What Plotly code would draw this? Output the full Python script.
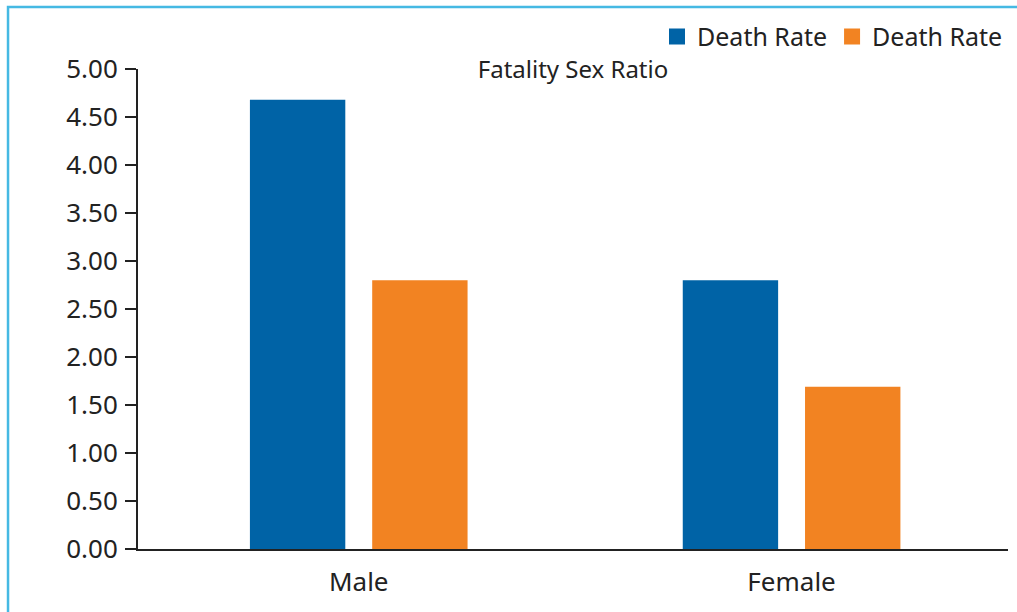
import plotly.graph_objects as go

categories = ["Male", "Female"]
series_names = ["Death Rate", "Death Rate"]
series_a = [4.68, 2.80]
series_b = [2.80, 1.69]
colors = ["#0063a6", "#f28322"]
y_ticks = [0, 0.5, 1, 1.5, 2, 2.5, 3, 3.5, 4, 4.5, 5]
y_tick_labels = [f"{v:.2f}" for v in y_ticks]
title_text = "Fatality Sex Ratio"

FONT = "Noto Sans"
TXT = "#222222"

fig = go.Figure()
for name, vals, col in zip(series_names, [series_a, series_b], colors):
    fig.add_trace(go.Bar(x=categories, y=vals, name=name, marker=dict(color=col, line=dict(width=0)),
                         showlegend=False))
    # legend entry with larger square swatch
    fig.add_trace(go.Scatter(x=[None], y=[None], mode="markers", name=name,
                             marker=dict(symbol="square", size=20, color=col)))

fig.update_layout(
    width=1017, height=612,
    margin=dict(l=138, r=9, t=69, b=63),
    paper_bgcolor="white", plot_bgcolor="white",
    font=dict(family=FONT, size=26, color=TXT),
    barmode="group", bargap=0.435, bargroupgap=0.22,
    title=dict(text=title_text, x=0.5, xref="paper", y=1 - 70 / 612, yanchor="middle",
               font=dict(family=FONT, size=24, color=TXT)),
    legend=dict(orientation="h", x=1.0, xanchor="right", y=1.067, yanchor="middle",
                font=dict(family=FONT, size=25, color=TXT), bgcolor="rgba(0,0,0,0)",
                itemclick=False, tracegroupgap=0, itemwidth=30),
    xaxis=dict(range=[-0.51, 1.5], showline=True, linecolor="#222222", linewidth=2,
               ticks="", showgrid=False, zeroline=False, tickfont=dict(size=26, color=TXT),
               ticklabelstandoff=9),
    yaxis=dict(range=[0, 5], tickvals=y_ticks, ticktext=y_tick_labels, showline=True,
               linecolor="#222222", linewidth=2, ticks="outside", ticklen=11, tickwidth=2,
               tickcolor="#222222", showgrid=False, zeroline=False,
               tickfont=dict(size=26, color=TXT), ticklabelstandoff=2),
    shapes=[dict(type="rect", xref="paper", yref="paper", x0=-0.1494, x1=1.2, y0=-0.3, y1=1.129,
                 line=dict(color="#45b9e3", width=2.5), layer="below")],
)

fig.write_html("out.html", config={"displayModeBar": False},
               post_script="document.body.style.margin='0';document.body.style.overflow='hidden';")
